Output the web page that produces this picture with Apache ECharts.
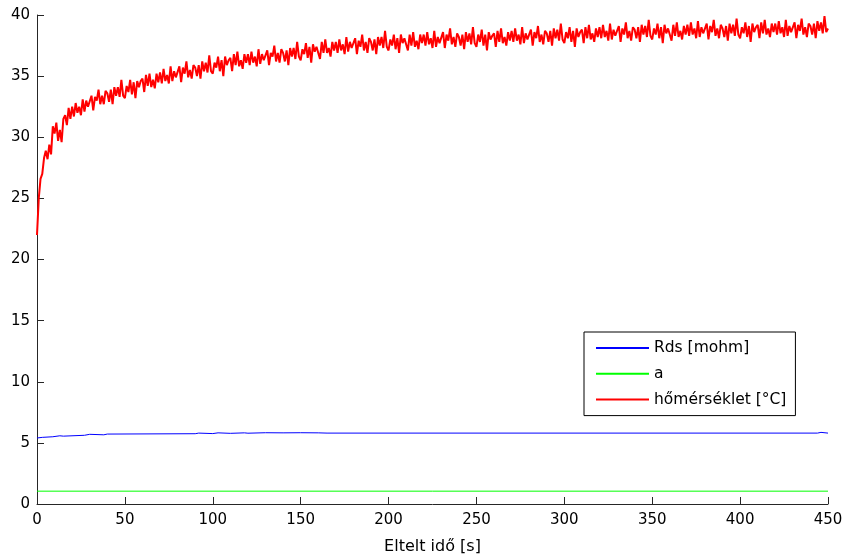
<!DOCTYPE html>
<html>
<head>
<meta charset="utf-8">
<script src="https://cdn.jsdelivr.net/npm/echarts@6/dist/echarts.min.js"></script>
<style>
  html, body { margin: 0; padding: 0; background: #fff; }
  #chart { width: 843px; height: 555px; }
</style>
</head>
<body>
<div id="chart"></div>
<script>
// Temperature readings, one per second from t = 0 s to t = 450 s
var tempC = [
  22.0, 25.0, 26.6, 27.0, 28.3, 28.9, 28.2, 29.4, 28.6, 30.9,
  30.3, 31.2, 29.7, 30.6, 29.6, 31.5, 31.8, 31.0, 32.4, 31.5,
  32.5, 31.7, 32.8, 32.0, 32.5, 31.8, 33.1, 32.1, 33.0, 32.5,
  32.5, 33.4, 32.2, 33.3, 33.0, 33.9, 32.7, 33.4, 32.7, 33.8,
  33.6, 32.9, 33.9, 32.7, 34.1, 33.4, 34.1, 33.3, 34.7, 33.4,
  33.2, 34.2, 33.7, 34.7, 33.5, 34.5, 33.2, 34.6, 34.1, 34.6,
  34.8, 33.7, 35.1, 34.2, 35.2, 34.1, 34.7, 34.0, 35.2, 34.5,
  35.3, 34.4, 35.6, 34.6, 35.1, 34.4, 35.8, 34.6, 35.4, 34.9,
  34.9, 35.8, 34.5, 35.7, 35.2, 36.2, 34.9, 35.5, 34.8, 35.9,
  35.7, 35.0, 35.9, 34.8, 36.2, 35.4, 36.1, 35.3, 36.7, 35.4,
  35.2, 36.1, 35.7, 36.6, 35.4, 36.3, 35.0, 36.6, 35.9, 36.3,
  36.5, 35.4, 36.8, 35.9, 37.0, 35.8, 36.3, 35.6, 36.8, 36.1,
  36.8, 35.9, 37.0, 36.1, 36.6, 35.8, 37.2, 36.0, 36.8, 36.3,
  36.2, 37.1, 35.9, 36.9, 36.6, 37.5, 36.2, 36.9, 36.1, 37.2,
  36.9, 36.2, 37.1, 35.9, 37.3, 36.6, 37.3, 36.4, 37.8, 36.6,
  36.3, 37.2, 36.8, 37.7, 36.5, 37.4, 36.1, 37.6, 37.0, 37.4,
  37.5, 36.4, 37.8, 36.9, 38.0, 36.9, 37.3, 36.6, 37.8, 37.1,
  37.8, 36.9, 38.0, 37.1, 37.6, 36.8, 38.2, 37.0, 37.8, 37.3,
  37.2, 38.1, 36.8, 37.9, 37.4, 38.4, 37.1, 37.8, 36.9, 38.1,
  37.8, 37.1, 38.0, 36.8, 38.2, 37.5, 38.2, 37.3, 38.7, 37.4,
  37.1, 38.0, 37.5, 38.4, 37.2, 38.1, 36.9, 38.4, 37.7, 38.1,
  38.2, 37.1, 38.4, 37.5, 38.6, 37.4, 37.9, 37.2, 38.4, 37.7,
  38.4, 37.5, 38.6, 37.6, 38.1, 37.3, 38.7, 37.4, 38.2, 37.7,
  37.6, 38.6, 37.3, 38.4, 37.9, 38.9, 37.6, 38.2, 37.4, 38.5,
  38.2, 37.5, 38.4, 37.2, 38.6, 37.8, 38.5, 37.6, 39.0, 37.7,
  37.4, 38.4, 37.8, 38.8, 37.5, 38.4, 37.1, 38.6, 38.0, 38.3,
  38.5, 37.4, 38.7, 37.8, 38.9, 37.7, 38.2, 37.5, 38.6, 37.9,
  38.7, 37.8, 38.9, 37.9, 38.4, 37.6, 39.0, 37.7, 38.5, 38.0,
  37.9, 38.8, 37.5, 38.6, 38.1, 39.1, 37.8, 38.4, 37.6, 38.7,
  38.5, 37.8, 38.7, 37.5, 38.9, 38.1, 38.8, 37.9, 39.3, 38.0,
  37.7, 38.6, 38.1, 39.0, 37.8, 38.7, 37.4, 38.9, 38.2, 38.6,
  38.8, 37.7, 39.0, 38.1, 39.2, 38.0, 38.5, 37.8, 38.9, 38.2,
  39.0, 38.1, 39.2, 38.2, 38.7, 37.9, 39.3, 38.0, 38.8, 38.3,
  38.2, 39.1, 37.8, 38.9, 38.4, 39.4, 38.1, 38.7, 37.9, 39.0,
  38.8, 38.1, 39.0, 37.8, 39.2, 38.4, 39.1, 38.2, 39.6, 38.3,
  38.0, 38.9, 38.4, 39.3, 38.1, 39.0, 37.7, 39.2, 38.5, 38.9,
  39.0, 37.9, 39.2, 38.3, 39.4, 38.2, 38.7, 38.0, 39.1, 38.4,
  39.2, 38.3, 39.4, 38.4, 38.9, 38.1, 39.5, 38.2, 39.0, 38.5,
  38.4, 39.3, 38.0, 39.1, 38.6, 39.6, 38.3, 38.9, 38.1, 39.2,
  38.9, 38.2, 39.1, 37.9, 39.3, 38.5, 39.2, 38.3, 39.7, 38.4,
  38.1, 39.0, 38.5, 39.4, 38.2, 39.1, 37.8, 39.3, 38.6, 39.0,
  39.2, 38.1, 39.4, 38.5, 39.6, 38.4, 38.9, 38.2, 39.3, 38.6,
  39.3, 38.4, 39.5, 38.5, 39.0, 38.2, 39.6, 38.3, 39.1, 38.6,
  38.5, 39.4, 38.1, 39.2, 38.7, 39.7, 38.4, 39.0, 38.2, 39.3,
  39.1, 38.4, 39.3, 38.1, 39.5, 38.7, 39.4, 38.5, 39.9, 38.6,
  38.9
];

// Rds [mohm]: time (s) and value where the reading changes
var rdsTime = [0, 1, 3, 9, 10, 13, 15, 27, 28, 30, 38, 40, 90, 91, 92, 100, 101, 103, 110, 111, 118, 120, 121, 130, 131, 140, 141, 150, 151, 160, 165, 444, 445, 446, 450];
var rdsVal  = [5.40, 5.45, 5.50, 5.52, 5.58, 5.55, 5.62, 5.65, 5.70, 5.66, 5.72, 5.75, 5.76, 5.80, 5.76, 5.78, 5.82, 5.78, 5.79, 5.82, 5.79, 5.80, 5.83, 5.79, 5.82, 5.80, 5.83, 5.80, 5.82, 5.80, 5.80, 5.80, 5.86, 5.80, 5.80];

// a: constant level
var aTime = [0, 450];
var aVal  = [1.05, 1.05];

var xTicks = { min: 0, max: 450, interval: 50 };
var yTicks = { min: 0, max: 40, interval: 5 };

function pairs(xs, ys) {
  return ys.map(function (v, i) { return [xs[i], v]; });
}
var tempPairs = tempC.map(function (v, i) { return [i, v]; });

var chart = echarts.init(document.getElementById('chart'), null, { renderer: 'canvas' });
var font = 'DejaVu Sans, Arial, sans-serif';

chart.setOption({
  animation: false,
  backgroundColor: '#ffffff',
  grid: { left: 37, right: 15, top: 15, bottom: 51, containLabel: false, outerBoundsMode: 'none' },
  legend: {
    orient: 'vertical',
    left: 584,
    top: 332,
    padding: [8, 9, 8, 11],
    itemGap: 9.8,
    itemWidth: 53,
    itemHeight: 14,
    backgroundColor: '#ffffff',
    borderColor: '#000000',
    borderWidth: 1,
    borderRadius: 0,
    itemStyle: { opacity: 0 },
    textStyle: { fontFamily: font, fontSize: 15.5, color: '#000000' },
    data: ['Rds [mohm]', 'a', 'hőmérséklet [°C]']
  },
  xAxis: {
    type: 'value',
    min: xTicks.min, max: xTicks.max, interval: xTicks.interval,
    name: 'Eltelt idő [s]',
    nameLocation: 'middle',
    nameGap: 35,
    nameTextStyle: { fontFamily: font, fontSize: 16, color: '#000000' },
    axisLine: { show: true, lineStyle: { color: '#262626', width: 1 } },
    axisTick: { show: true, inside: true, length: 7, lineStyle: { color: '#262626' } },
    axisLabel: { fontFamily: font, fontSize: 15, color: '#000000', margin: 9 },
    splitLine: { show: false }
  },
  yAxis: {
    type: 'value',
    min: yTicks.min, max: yTicks.max, interval: yTicks.interval,
    axisLine: { show: true, lineStyle: { color: '#262626', width: 1 } },
    axisTick: { show: true, inside: true, length: 7, lineStyle: { color: '#262626' } },
    axisLabel: { fontFamily: font, fontSize: 15, color: '#000000', margin: 7 },
    splitLine: { show: false }
  },
  series: [
    {
      name: 'Rds [mohm]', type: 'line', data: pairs(rdsTime, rdsVal),
      step: 'end', symbol: 'none', color: '#0000ff',
      lineStyle: { color: '#0000ff', width: 1 }
    },
    {
      name: 'a', type: 'line', data: pairs(aTime, aVal),
      symbol: 'none', color: '#00ff00',
      lineStyle: { color: '#00ff00', width: 1 }
    },
    {
      name: 'hőmérséklet [°C]', type: 'line', data: tempPairs,
      symbol: 'none', color: '#ff0000',
      lineStyle: { color: '#ff0000', width: 2 }
    }
  ]
});
</script>
</body>
</html>
